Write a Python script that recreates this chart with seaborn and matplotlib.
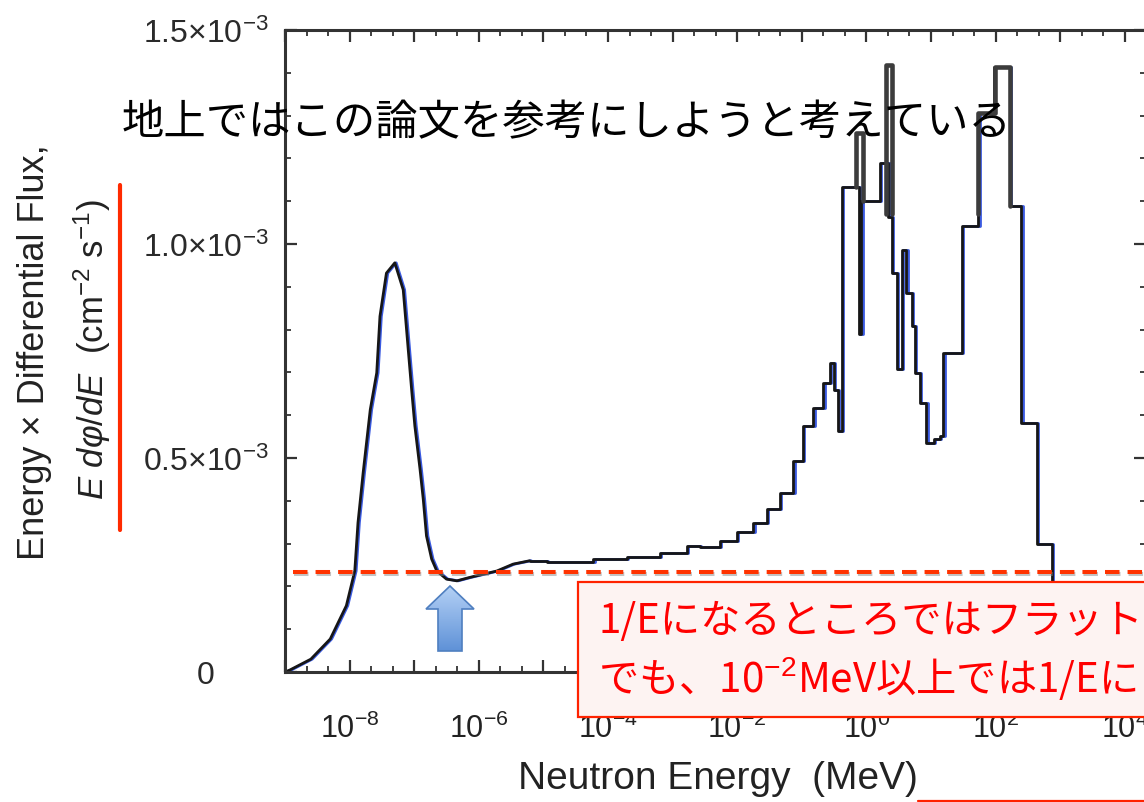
import numpy as np
import pandas as pd
import matplotlib
matplotlib.use("Agg")
import matplotlib.pyplot as plt
import matplotlib.patches as mpatches
import matplotlib.lines as mlines
import matplotlib.patheffects as pe
from matplotlib.ticker import FixedLocator, FixedFormatter, NullFormatter, MultipleLocator
from matplotlib.transforms import ScaledTranslation
from matplotlib.colors import LinearSegmentedColormap
import seaborn as sns

# ---------------- data ----------------
main_log_energy = [-9.00, -8.92, -8.60, -8.30, -8.05, -7.92, -7.87, -7.79, -7.68, -7.58,
                   -7.53, -7.43, -7.30, -7.17, -7.09, -7.04, -6.99, -6.91, -6.86, -6.81,
                   -6.73, -6.65, -6.50, -6.34, -6.14, -5.72, -5.47, -5.21, -4.95, -4.43,
                   -4.23, -3.71, -3.20, -2.78, -2.58, -2.27, -2.01, -1.75, -1.54, -1.34,
                   -1.13, -0.98, -0.82, -0.67, -0.57, -0.50, -0.44, -0.38, -0.12, -0.08,
                   0.21, 0.34, 0.39, 0.47, 0.55, 0.62, 0.70, 0.75, 0.83, 0.93,
                   1.04, 1.14, 1.19, 1.48, 1.73, 1.97, 2.22, 2.40, 2.64, 2.87,
                   3.10, 3.40, 3.80, 4.34]
main_flux_e3 = [0.000, 0.005, 0.030, 0.077, 0.155, 0.236, 0.349, 0.466, 0.613, 0.699,
                0.831, 0.932, 0.956, 0.893, 0.749, 0.660, 0.575, 0.474, 0.404, 0.318,
                0.264, 0.236, 0.217, 0.213, 0.221, 0.236, 0.252, 0.260, 0.256, 0.257,
                0.264, 0.268, 0.279, 0.295, 0.291, 0.306, 0.326, 0.349, 0.380, 0.419,
                0.493, 0.575, 0.617, 0.676, 0.722, 0.660, 0.563, 1.134, 0.790, 1.100,
                1.189, 1.064, 0.933, 0.707, 0.987, 0.886, 0.808, 0.699, 0.629, 0.536,
                0.544, 0.551, 0.746, 1.041, 1.306, 1.414, 1.088, 0.582, 0.299, 0.120,
                0.050, 0.015, 0.000, 0.000]
# the thermal / epithermal part (first points) is drawn as a smooth curve,
# the rest as a stepped histogram
smooth_count = 28

peak_segment = [1, 1, 1, 1, 2, 2, 2, 2, 3, 3, 3, 3, 3]
peak_log_energy = [-0.16, -0.16, -0.06, -0.06, 0.31, 0.31, 0.40, 0.40, 1.73, 1.73, 1.99, 2.22, 2.22]
peak_flux_e3 = [1.134, 1.260, 1.100, 1.100, 1.070, 1.418, 1.070, 1.070, 1.070, 1.306, 1.414, 1.088, 1.088]

flat_level_e3 = 0.234

x_tick_exponents = [-9, -8, -7, -6, -5, -4, -3, -2, -1, 0, 1, 2, 3, 4]
x_tick_labels = ["", "$10^{-8}$", "", "$10^{-6}$", "", "$10^{-4}$", "", "$10^{-2}$",
                 "", "$10^{0}$", "", "$10^{2}$", "", "$10^{4}$"]
y_ticks_e3 = [0.0, 0.5, 1.0, 1.5]
y_tick_labels = ["0", "0.5×10$^{-3}$", "1.0×10$^{-3}$", "1.5×10$^{-3}$"]

title_text = "地上ではこの論文を参考にしようと考えている"
note_line1 = "1/Eになるところではフラット"
note_line2 = "でも、10$^{-2}$MeV以上では1/Eに"
x_label = "Neutron Energy  (MeV)"
y_label_1 = "Energy × Differential Flux,"
y_label_2 = r"$E\ d\varphi/dE$  (cm$^{-2}$ s$^{-1}$)"

# ---------------- style ----------------
sns.set_theme(style="ticks")
plt.rcParams["font.family"] = ["Liberation Sans", "DejaVu Sans"]
plt.rcParams["mathtext.fontset"] = "custom"
plt.rcParams["mathtext.rm"] = "Liberation Sans"
plt.rcParams["mathtext.it"] = "Liberation Sans:italic"
plt.rcParams["mathtext.bf"] = "Liberation Sans:bold"
CJK = ["Noto Sans CJK JP", "DejaVu Sans"]

W, H = 1144, 803
fig = plt.figure(figsize=(W / 100, H / 100), dpi=100)
fig.patch.set_facecolor("white")


def fx(px):
    return px / W


def fy(py):
    return 1 - py / H


ax = fig.add_axes([fx(285), fy(673), (1146.5 - 285) / W, (673 - 31) / H])
ax.set_xscale("log")
ax.set_facecolor("white")

main_df = pd.DataFrame({"E": 10.0 ** np.array(main_log_energy),
                        "flux": np.array(main_flux_e3) * 1e-3})
smooth_df = main_df.iloc[:smooth_count]
step_df = main_df.iloc[smooth_count - 1:]
peak_df = pd.DataFrame({"seg": peak_segment,
                        "E": 10.0 ** np.array(peak_log_energy),
                        "flux": np.array(peak_flux_e3) * 1e-3})

shift = ScaledTranslation(0.014, 0, fig.dpi_scale_trans)
for part, style in ((smooth_df, "default"), (step_df, "steps-post")):
    # blue fringe under the black curve
    sns.lineplot(data=part, x="E", y="flux", ax=ax, estimator=None, sort=False,
                 drawstyle=style, color="#3a5ae0", lw=2.0, legend=False)
    ax.lines[-1].set_transform(ax.transData + shift)
    sns.lineplot(data=part, x="E", y="flux", ax=ax, estimator=None, sort=False,
                 drawstyle=style, color="#161616", lw=2.0, legend=False)
sns.lineplot(data=peak_df, x="E", y="flux", units="seg", ax=ax, estimator=None, sort=False,
             drawstyle="steps-post", color="#3c3c3c", lw=3.3, legend=False)

ax.set_xlim(1e-9, 10 ** 4.336)
ax.set_ylim(0, 1.5e-3)
ax.set_xlabel("")
ax.set_ylabel("")

# ticks
ax.xaxis.set_major_locator(FixedLocator([10.0 ** e for e in x_tick_exponents]))
ax.xaxis.set_major_formatter(FixedFormatter(x_tick_labels))
ax.xaxis.set_minor_locator(FixedLocator([10.0 ** (e + f) for e in x_tick_exponents for f in (1 / 3, 2 / 3)]))
ax.xaxis.set_minor_formatter(NullFormatter())
ax.yaxis.set_major_locator(FixedLocator([v * 1e-3 for v in y_ticks_e3]))
ax.yaxis.set_major_formatter(FixedFormatter(y_tick_labels))
ax.yaxis.set_minor_locator(MultipleLocator(1e-4))

ax.tick_params(axis="both", which="both", direction="in", top=True, right=True,
               color="#333333")
ax.tick_params(axis="both", which="major", length=8.5, width=1.6)
ax.tick_params(axis="both", which="minor", length=4.5, width=1.3)
ax.tick_params(axis="x", which="major", labelsize=22, pad=29, labelcolor="#222222")
ax.tick_params(axis="y", which="major", labelsize=23, pad=57, labelcolor="#2a2a2a")
for lbl in ax.get_yticklabels():
    lbl.set_horizontalalignment("center")

for s in ax.spines.values():
    s.set_linewidth(2.2)
    s.set_color("#333333")

# red dashed reference line (1/E flat level)
ax.axhline(flat_level_e3 * 1e-3, xmin=(293 - 285) / 861.5, xmax=1.0, color="#ff3300",
           lw=2.9, linestyle=(0, (3.6, 2.0)), zorder=6, clip_on=False,
           path_effects=[pe.SimpleLineShadow(offset=(1, -1.5), shadow_color="#888888", alpha=0.5),
                         pe.Normal()])

# axis labels
fig.text(fx(718), fy(779), x_label, ha="center", va="center", fontsize=28, color="#222222")
fig.text(fx(35), fy(352), y_label_1, ha="center", va="center", rotation=90,
         fontsize=26, color="#222222")
fig.text(fx(92), fy(350), y_label_2, ha="center", va="center", rotation=90,
         fontsize=25, color="#222222")

# red vertical bar beside the y label
fig.add_artist(mlines.Line2D([fx(120), fx(120)], [fy(186), fy(531)], transform=fig.transFigure,
                             color="#ff2a00", lw=3.0, zorder=4))

# overlay title
fig.text(fx(122), fy(123), title_text, ha="left", va="center", fontsize=30.5,
         family=CJK, color="black", zorder=10)

# blue up arrow with gradient
aax = fig.add_axes([fx(425), fy(655), 51 / W, 70 / H])
aax.set_xlim(425, 476)
aax.set_ylim(655, 585)
aax.axis("off")
arrow_pts = [(450, 587), (474, 610), (462, 610), (462, 652), (438, 652), (438, 610), (426, 610)]
poly = mpatches.Polygon(arrow_pts, closed=True, facecolor="none", edgecolor="#4f7fc0",
                        lw=1.2, transform=aax.transData, zorder=3)
aax.add_patch(poly)
grad_cmap = LinearSegmentedColormap.from_list("g", ["#b6d2f6", "#5b8fd6"])
im = aax.imshow(np.linspace(0, 1, 100)[:, None], extent=[425, 476, 655, 585], aspect="auto",
                cmap=grad_cmap, origin="upper", zorder=2)
im.set_clip_path(poly)

# red note box
box = mpatches.Rectangle((fx(578), fy(718)), (1180 - 578) / W, (718 - 583) / H,
                         transform=fig.transFigure, facecolor="#fdf3f2", edgecolor="#ff2200",
                         lw=1.6, zorder=3)
fig.add_artist(box)
fig.text(fx(598), fy(622), note_line1, ha="left", va="center", fontsize=29,
         family=CJK, color="#ff0000", zorder=11)
fig.text(fx(598), fy(679), note_line2, ha="left", va="center", fontsize=29,
         family=CJK, color="#ff0000", zorder=11)

# red line at bottom right
fig.add_artist(mlines.Line2D([fx(918), fx(1150)], [fy(801.5), fy(801.5)], transform=fig.transFigure,
                             color="#ff2200", lw=1.6, zorder=4))

fig.savefig("out.png", dpi=100, facecolor="white")
